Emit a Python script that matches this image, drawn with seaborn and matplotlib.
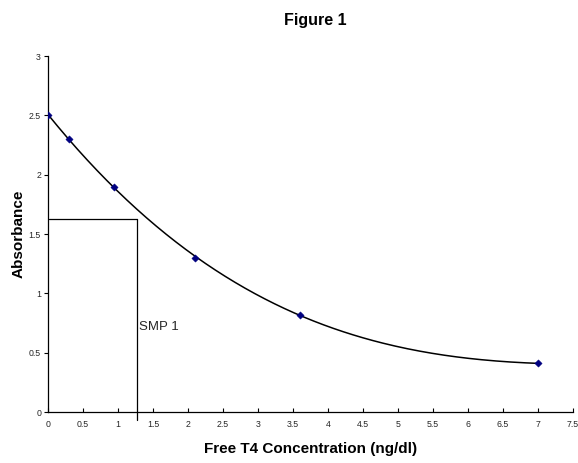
import numpy as np
import pandas as pd
import matplotlib
matplotlib.use("Agg")
import matplotlib.pyplot as plt
import seaborn as sns

concentration = [0.0, 0.3, 0.95, 2.1, 3.6, 7.0]
absorbance = [2.5, 2.3, 1.9, 1.3, 0.82, 0.41]
x_ticks = [0, 0.5, 1, 1.5, 2, 2.5, 3, 3.5, 4, 4.5, 5, 5.5, 6, 6.5, 7, 7.5]
y_ticks = [0, 0.5, 1, 1.5, 2, 2.5, 3]
smp_x = 1.27
smp_y = 1.63
smp_label = "SMP 1"

sns.set_theme(style="white")
plt.rcParams['font.family'] = ['Liberation Sans', 'DejaVu Sans']

fig = plt.figure(figsize=(5.78, 4.63), dpi=100)
ax = fig.add_axes([0.083, 0.110, 0.908, 0.769])

df = pd.DataFrame({"x": concentration, "y": absorbance})
coef = np.polyfit(df["x"], df["y"], 3)
xs = np.linspace(0, 7, 200)
fit = pd.DataFrame({"x": xs, "y": np.polyval(coef, xs)})

sns.lineplot(data=fit, x="x", y="y", ax=ax, color="black", linewidth=1.1)
sns.scatterplot(data=df, x="x", y="y", ax=ax, marker="D", s=14, color="#000080",
                edgecolor="#000080", zorder=3)

ax.plot([0.02, smp_x], [smp_y, smp_y], color="black", linewidth=0.9)
ax.plot([smp_x, smp_x], [-0.07, smp_y], color="black", linewidth=0.9, clip_on=False)
ax.text(smp_x + 0.03, 0.72, smp_label, fontsize=9.5, ha="left", va="center")

ax.set_xlim(0, 7.5)
ax.set_ylim(0, 3)
ax.set_xticks(x_ticks)
ax.set_xticklabels([f"{t:g}" for t in x_ticks])
ax.set_yticks(y_ticks)
ax.set_yticklabels([f"{t:g}" for t in y_ticks])
ax.tick_params(axis="x", direction="in", length=3, width=0.8, labelsize=6.3, pad=6, color="black")
ax.tick_params(axis="y", direction="out", length=3, width=0.8, labelsize=6.3, pad=2, color="black")
ax.tick_params(left=True, bottom=True)
for s in ["top", "right"]:
    ax.spines[s].set_visible(False)
for s in ["left", "bottom"]:
    ax.spines[s].set_color("black")
    ax.spines[s].set_linewidth(0.9)

ax.set_xlabel("Free T4 Concentration (ng/dl)", fontsize=11, fontweight="bold", color="black")
ax.xaxis.set_label_coords(0.5, -0.085)
ax.set_ylabel("Absorbance", fontsize=11, fontweight="bold", color="black")
ax.yaxis.set_label_coords(-0.043, 0.5)
fig.text(0.545, 0.955, "Figure 1", fontsize=11.5, fontweight="bold", ha="center", va="center",
         color="black")

fig.savefig("out.png", dpi=100, facecolor="white")
